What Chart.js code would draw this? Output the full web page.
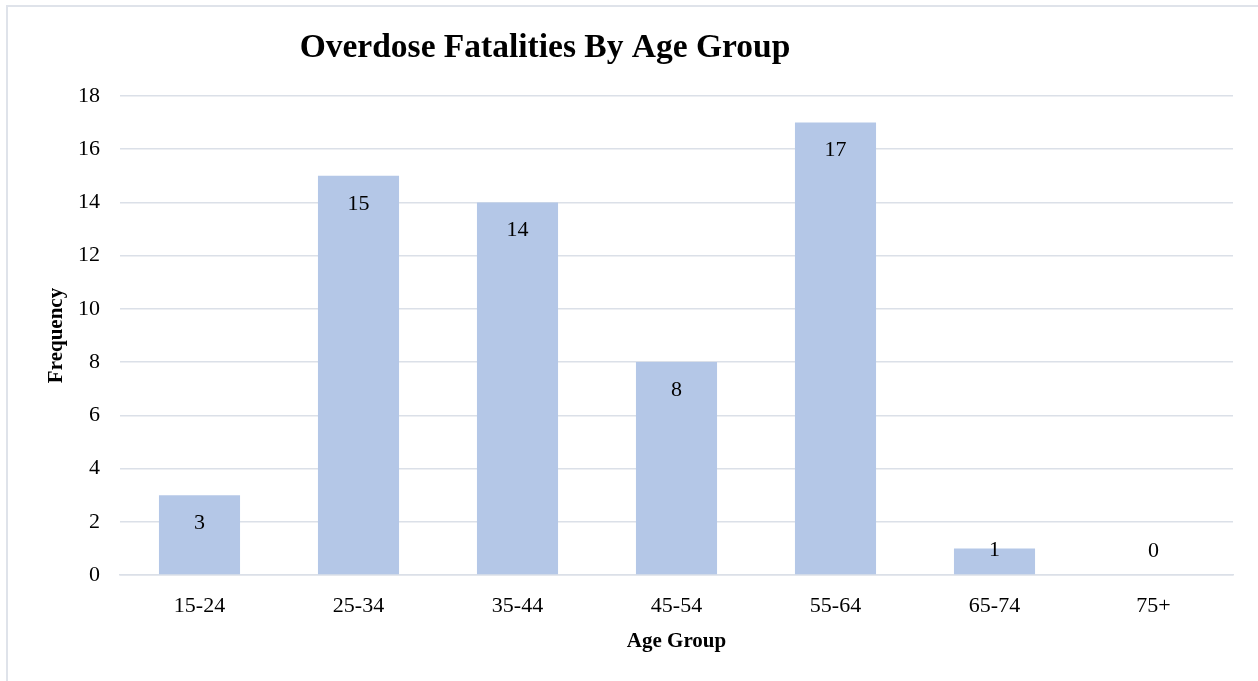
<!DOCTYPE html>
<html>
<head>
<meta charset="utf-8">
<script src="https://cdn.jsdelivr.net/npm/chart.js@4"></script>
<style>
  html, body { margin: 0; padding: 0; background: #fff; overflow: hidden; }
  #wrap { position: relative; width: 1258px; height: 681px; }
  #frame { position: absolute; left: 6px; top: 5px; width: 1300px; height: 700px;
           border: 2px solid #dfe3ea; box-sizing: border-box; }
  canvas { position: absolute; left: 0; top: 0; }
</style>
</head>
<body>
<div id="wrap">
  <div id="frame"></div>
  <canvas id="myChart" width="1258" height="681"></canvas>
</div>
<script>
// chart data
const chartTitle = 'Overdose Fatalities By Age Group';
const ageGroups = ['15-24', '25-34', '35-44', '45-54', '55-64', '65-74', '75+'];
const fatalities = [3, 15, 14, 8, 17, 1, 0];
const yTicks = [0, 2, 4, 6, 8, 10, 12, 14, 16, 18];

const serif = '"Liberation Serif", "Times New Roman", serif';
const gridColor = '#dbe0e8';

// title drawn left of plot centre, like the original
const titlePlugin = {
    id: 'sheetTitle',
    afterDraw(chart) {
        const ctx = chart.ctx;
        ctx.save();
        ctx.font = 'bold 33.5px ' + serif;
        ctx.fillStyle = '#000';
        ctx.textAlign = 'center';
        ctx.textBaseline = 'alphabetic';
        ctx.fillText(chartTitle, 545, 57);
        ctx.restore();
    }
};

// value labels inside the top of each bar
const labelPlugin = {
    id: 'valueLabels',
    afterDatasetsDraw(chart) {
        const ctx = chart.ctx;
        const meta = chart.getDatasetMeta(0);
        ctx.save();
        ctx.font = '22px ' + serif;
        ctx.fillStyle = '#000';
        ctx.textAlign = 'center';
        ctx.textBaseline = 'middle';
        meta.data.forEach((bar, i) => {
            const y = Math.min(bar.y + 28, bar.base - 24);
            ctx.fillText(String(fatalities[i]), bar.x, y);
        });
        ctx.restore();
    }
};

function initChart() {
    const ctx = document.getElementById('myChart').getContext('2d');
    return new Chart(ctx, {
        type: 'bar',
        data: {
            labels: ageGroups,
            datasets: [{
                label: 'Frequency',
                data: fatalities,
                backgroundColor: '#b4c7e7',
                borderWidth: 0,
                barPercentage: 0.51,
                categoryPercentage: 1,
            }],
        },
        options: {
            responsive: false,
            animation: false,
            layout: { padding: { top: 96, right: 25, left: 0, bottom: 0 } },
            plugins: {
                legend: { display: false },
                tooltip: { enabled: false },
            },
            scales: {
                x: {
                    grid: { display: false, drawTicks: false },
                    border: { color: gridColor, width: 1.5 },
                    ticks: { color: '#000', font: { family: serif, size: 22 }, padding: 18 },
                    title: {
                        display: true, text: 'Age Group', color: '#000',
                        font: { family: serif, size: 21, weight: 'bold' },
                        padding: { top: 0, bottom: 27 }
                    },
                    afterFit(scale) { scale.height = 106; }
                },
                y: {
                    min: 0,
                    max: 18,
                    afterBuildTicks(scale) { scale.ticks = yTicks.map(v => ({ value: v })); },
                    grid: { color: gridColor, lineWidth: 1.5, drawTicks: false },
                    border: { display: false },
                    ticks: { color: '#000', font: { family: serif, size: 22 }, padding: 20 },
                    title: {
                        display: true, text: 'Frequency', color: '#000',
                        font: { family: serif, size: 21, weight: 'bold' },
                        padding: { top: 44, bottom: 0 }
                    },
                    afterFit(scale) { scale.width = 120; }
                }
            }
        },
        plugins: [titlePlugin, labelPlugin]
    });
}

const chart = initChart();
</script>
</body>
</html>
